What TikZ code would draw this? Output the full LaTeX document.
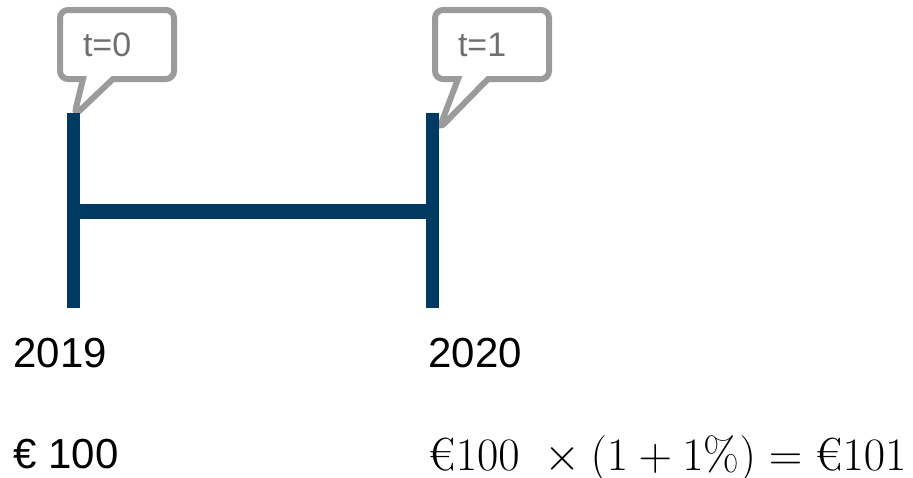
\documentclass[tikz,border=0pt]{standalone}
\usepackage{graphicx}
\usepackage{fontspec}
\usepackage{amsmath}
\newfontfamily\arialfont{Liberation Sans}
\newcommand\tagfont{\arialfont\fontsize{17}{20}\selectfont}
\usetikzlibrary{shapes.callouts}
\definecolor{barblue}{HTML}{003A63}
\definecolor{bubbleline}{HTML}{9B9B9B}
\definecolor{bubbletext}{HTML}{6F6F6F}
\tikzset{
  vbar/.style={draw=barblue, line width=6.5pt},
  hbar/.style={draw=barblue, line width=7.5pt},
  bubble/.style={rectangle callout, draw=bubbleline, fill=white, line width=3pt,
                 rounded corners=4pt, minimum width=57pt, minimum height=34.5pt,
                 text width=34pt, inner xsep=11.5pt, align=left, text=bubbletext,
                 font=\tagfont, callout pointer width=15pt},
  yearlabel/.style={anchor=base west, inner sep=0pt, font=\arialfont\fontsize{21}{25}\selectfont},
}

\begin{document}
\begin{tikzpicture}[x=0.5pt, y=-0.5pt]
    \useasboundingbox (0,0) rectangle (913,477);
    \coordinate (t0top) at (73.5,113);
    \coordinate (t0mid) at (73.5,211);
    \coordinate (t0bot) at (73.5,308);
    \coordinate (t1top) at (432,113);
    \coordinate (t1mid) at (432,211);
    \coordinate (t1bot) at (432,308);
    \coordinate (tip0) at (74,116);
    \coordinate (tip1) at (439,129);
    \node[bubble, callout absolute pointer=(tip0)] (tag0) at (117,44.5) {t=0};
    \node[bubble, callout absolute pointer=(tip1)] (tag1) at (492,44.5) {t=1};
    \draw[vbar] (t0top) -- (t0bot);
    \draw[vbar] (t1top) -- (t1bot);
    \draw[hbar] (t0mid) -- (t1mid);
    \node[yearlabel] (y0) at (13,367) {2019};
    \node[yearlabel] (y1) at (428,367) {2020};
    \node[yearlabel] (pv) at (13,468) {€ 100};
    \node[anchor=base west, inner sep=0pt, font=\fontsize{20.74}{25}\selectfont] (fv) at (428,470)
      {\scalebox{1.12}{$\textrm{€}100\ \times (1+1\%) = \textrm{€}101$}};
  \end{tikzpicture}
\end{document}
